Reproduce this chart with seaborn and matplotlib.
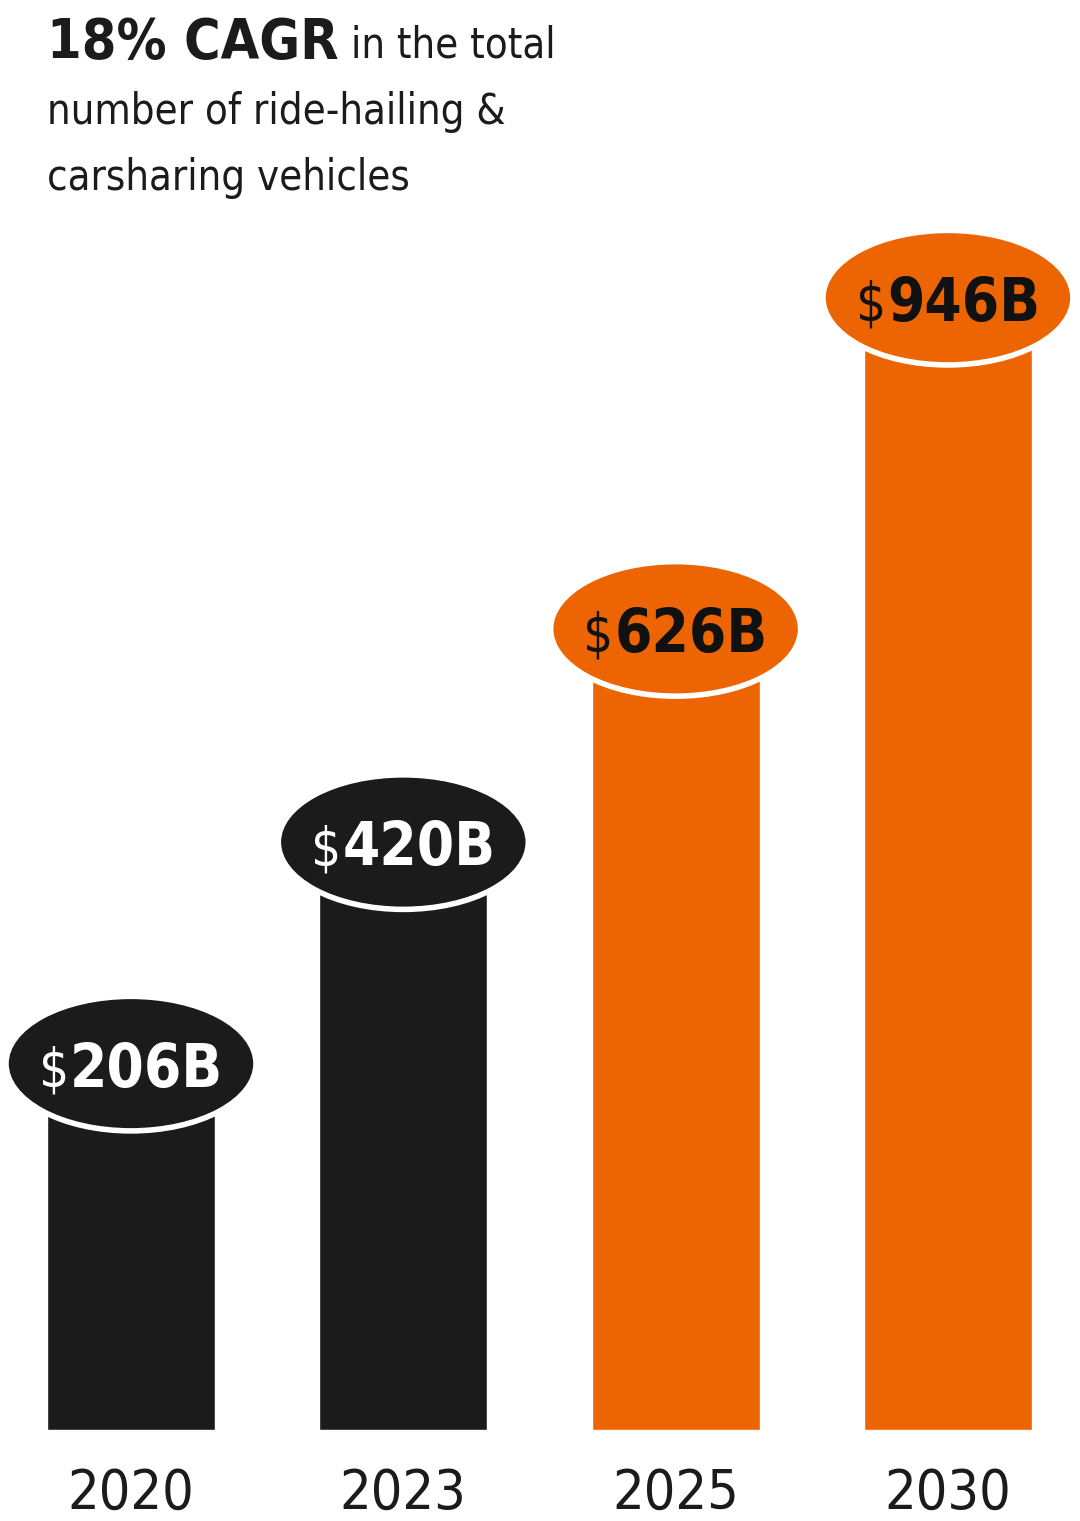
import pandas as pd
import matplotlib
matplotlib.use("Agg")
import matplotlib.pyplot as plt
import seaborn as sns
from matplotlib.patches import Ellipse

years = ["2020", "2023", "2025", "2030"]
values = [206, 420, 626, 946]
bar_colors = ["#1b1b1b", "#1b1b1b", "#ec6502", "#ec6502"]
text_colors = ["white", "white", "#111111", "#111111"]

# bars are drawn from a raised baseline in the original graphic
base = 148

sns.set_theme(style="white")
plt.rcParams['font.family'] = ['DejaVu Sans']
plt.rcParams['font.stretch'] = 'condensed'

df = pd.DataFrame({"year": years, "value": values})
df["shown"] = df["value"] + base

W, H = 1080, 1521
fig = plt.figure(figsize=(W / 100, H / 100), dpi=100)
ax = fig.add_axes([0, 0, 1, 1])
sns.barplot(data=df, x="year", y="shown", hue="year", palette=bar_colors,
            width=0.617, legend=False, saturation=1, ax=ax)

ax.set_xlim(-0.481, 3.485)
ax.set_ylim(-87.9, 1381.6)
ax.axis("off")

renderer = fig.canvas.get_renderer()
for i, (h, v) in enumerate(zip(df["shown"], df["value"])):
    ax.add_patch(Ellipse((i, h), 0.918, 130, facecolor=bar_colors[i],
                         edgecolor="white", linewidth=4, zorder=3))
    cx, cy = ax.transData.transform((i, h))
    ds = fig.text(0, 0, "$", fontsize=38, color=text_colors[i],
                  va="baseline", zorder=4)
    num = fig.text(0, 0, f"{v}B", fontsize=43, fontweight="bold",
                   color=text_colors[i], va="baseline", zorder=4)
    wd = ds.get_window_extent(renderer).width
    wn = num.get_window_extent(renderer).width
    x0 = cx - (wd + 1 + wn) / 2
    yb = cy - 23
    ds.set_position((x0 / W, yb / H))
    num.set_position(((x0 + wd + 1) / W, yb / H))
    ax.text(i, -76, years[i], ha="center", va="baseline", fontsize=40,
            color="#1b1b1b")

# title block
t1 = fig.text(47 / W, 1 - 58 / H, "18% CAGR", fontsize=40,
              fontweight="bold", color="#1b1b1b", va="baseline")
bb = t1.get_window_extent(renderer)
fig.text((bb.x1 + 12) / W, 1 - 58 / H, "in the total", fontsize=30,
         color="#1b1b1b", va="baseline")
fig.text(47 / W, 1 - 124 / H, "number of ride-hailing &", fontsize=30,
         color="#1b1b1b", va="baseline")
fig.text(47 / W, 1 - 190 / H, "carsharing vehicles", fontsize=30,
         color="#1b1b1b", va="baseline")

fig.savefig("out.png", dpi=100)
